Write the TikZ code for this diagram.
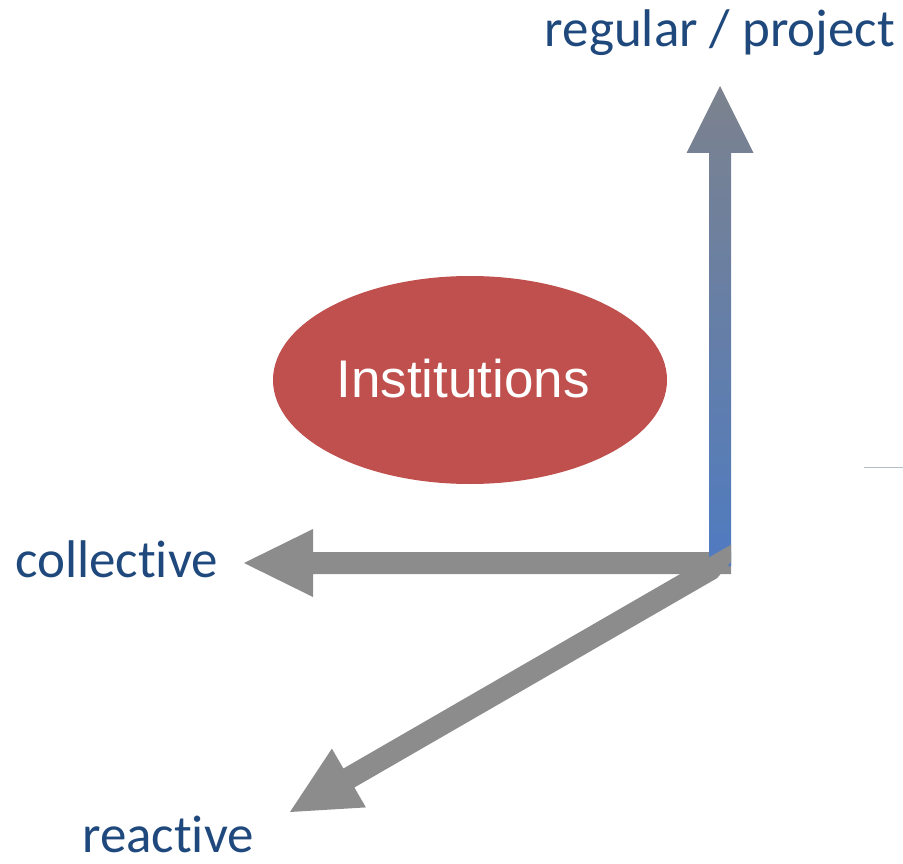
\documentclass[tikz,border=0pt]{standalone}
\usepackage{fontspec}
\setmainfont{Carlito}[Ligatures={NoCommon,NoContextual}]
\newfontfamily\arialfont{Liberation Sans}
\usetikzlibrary{shapes.geometric}
\definecolor{lblcol}{RGB}{31,73,125}
\definecolor{instred}{RGB}{192,80,77}
\definecolor{arrgrey}{RGB}{140,140,140}
\definecolor{vtop}{RGB}{124,130,142}
\definecolor{vbot}{RGB}{79,123,192}
\definecolor{thinline}{RGB}{180,190,200}
\begin{document}
\begin{tikzpicture}[x=1pt,y=-1pt,
  lbl/.style={text=lblcol, font=\fontsize{53}{60}\selectfont, inner sep=0pt},
  greyarrow/.style={fill=arrgrey, draw=none},
  vertarrow/.style={top color=vtop, bottom color=vbot, draw=none},
  instshape/.style={ellipse, fill=instred, draw=none, minimum width=394, minimum height=208, inner sep=0pt},
  insttext/.style={text=white, font=\arialfont\fontsize{53}{60}\selectfont, inner sep=0pt}]
\useasboundingbox (0,0) rectangle (903,864);

% key points
\coordinate (vtip) at (720,86);
\coordinate (htip) at (244,563);
\coordinate (dtip) at (290,812);

% horizontal arrow (collective)
\fill[greyarrow] (731,552) -- (313,552) -- (313,529) -- (htip) -- (313,597) -- (313,574) -- (731,574) -- cycle;

% vertical arrow (regular / project)
\shade[vertarrow] (709,566) -- (709,153) -- (686.5,153) -- (vtip) -- (753.5,153) -- (731,153) -- (731,566) -- cycle;

% diagonal arrow (reactive)
\fill[greyarrow] (dtip) -- (365.9,807.4) -- (354.4,787.5) -- (717,578.2) -- (731,562) -- (731,544.7) -- (343.4,768.5) -- (331.9,748.6) -- cycle;

% ellipse
\node[instshape] (inst) at (470,380) {};
\node[insttext, anchor=base] (insttxt) at (463,397) {Institutions};

% labels
\node[lbl, anchor=base] (reg) at (720,47) {regular / project};
\node[lbl, anchor=base west] (coll) at (15,577) {collect\kern0pt ive};
\node[lbl, anchor=base west] (reac) at (82,852) {react\kern0pt ive};

% small stray line at right
\coordinate (la) at (864,467);
\coordinate (lb) at (903,467);
\draw[thinline, line width=1pt] (la) -- (lb);
\end{tikzpicture}
\end{document}
